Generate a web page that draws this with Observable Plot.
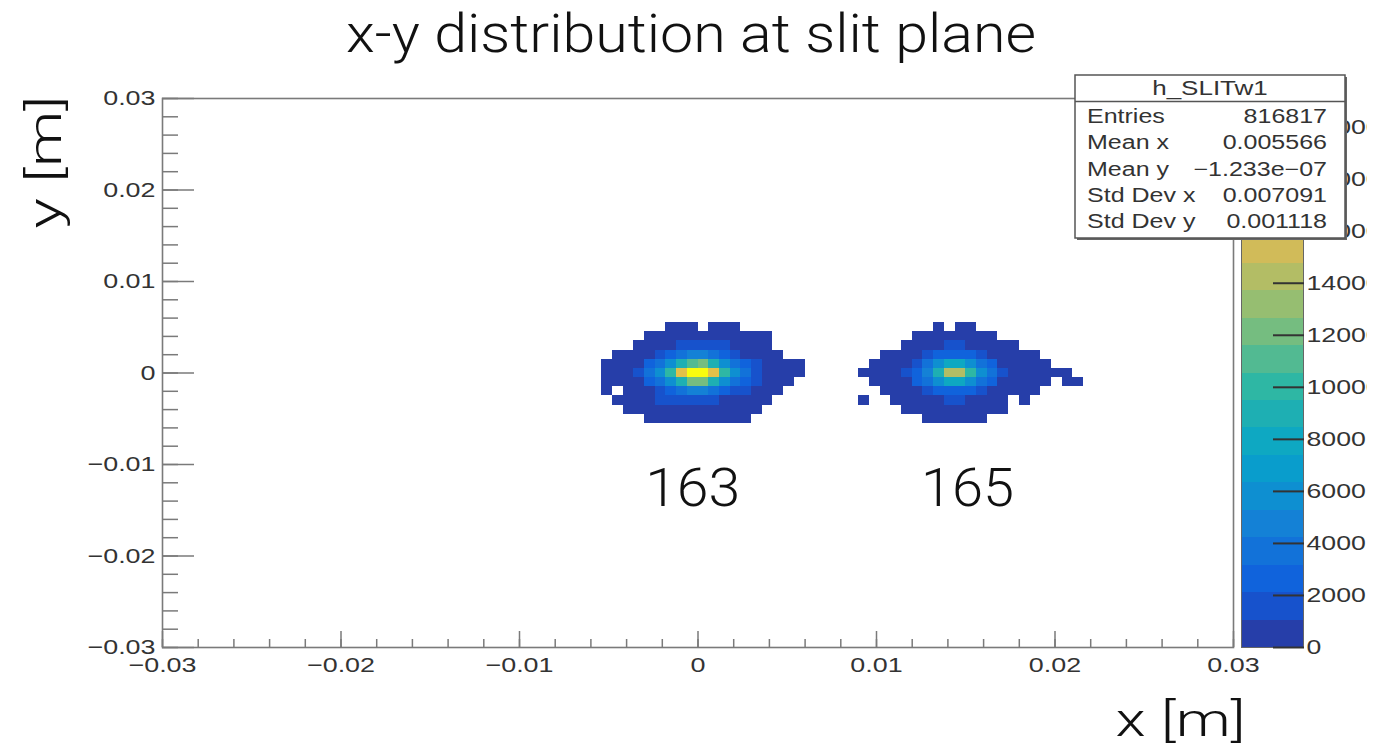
<!DOCTYPE html>
<html>
<head>
<meta charset="utf-8">
<script src="https://cdn.jsdelivr.net/npm/d3@7"></script>
<script src="https://cdn.jsdelivr.net/npm/@observablehq/plot@0.6"></script>
<style>
  body { margin: 0; background: #fff; }
  #wrap { position: relative; width: 1386px; height: 752px; overflow: hidden; background: #fff; }
  #wrap > svg { position: absolute; }
</style>
</head>
<body>
<div id="wrap"></div>
<script>
// ---------------- data ----------------
const titleText = "x-y distribution at slit plane";
const xAxisTitle = "x [m]";
const yAxisTitle = "y [m]";

// histogram binning (x bins 0.0006 m wide, y bins 0.001 m tall)
const binWidthX = 0.0006;
const binHeightY = 0.001;
const rowCentersY = [0.005, 0.004, 0.003, 0.002, 0.001, 0, -0.001, -0.002, -0.003, -0.004, -0.005];

// peak "163": columns start at x = -0.0054 (20 columns)
const peak163FirstEdgeX = -0.0054;
const peak163Counts = [
  [0,0,0,0,0,0,140,260,210,0,230,170,90,0,0,0,0,0,0,0],
  [0,0,0,0,170,380,560,760,900,920,800,610,430,280,150,60,0,0,0,0],
  [0,0,0,140,340,650,1000,1500,1950,2000,1600,1150,750,450,240,100,0,0,0,0],
  [0,80,230,520,1000,1800,2900,4000,5000,5100,4000,2900,1800,1050,560,260,100,0,0,0],
  [60,220,500,950,2200,3500,5600,8600,11600,11900,9000,5800,3600,2300,1150,580,300,150,70,0],
  [150,390,800,2000,3800,6000,9700,16000,21000,20700,16600,10100,6100,3500,1900,780,390,190,80,0],
  [80,250,540,980,2250,3600,5700,8700,11800,12000,9100,5900,3700,2350,1200,600,310,140,0,0],
  [60,0,240,540,1020,1850,2950,4050,5050,5150,4050,2950,1850,1080,580,270,110,0,0,0],
  [0,70,200,420,720,1080,1500,1950,2000,1950,1500,1050,680,380,190,80,0,0,0,0],
  [0,0,110,250,420,600,760,870,930,920,800,620,430,260,120,0,0,0,0,0],
  [0,0,0,0,80,190,320,420,470,460,400,300,180,80,0,0,0,0,0,0]
];

// peak "165": columns start at x = 0.009 (21 columns)
const peak165FirstEdgeX = 0.009;
const peak165Counts = [
  [0,0,0,0,0,0,0,150,0,190,120,0,0,0,0,0,0,0,0,0,0],
  [0,0,0,0,0,120,300,480,620,640,520,330,140,0,0,0,0,0,0,0,0],
  [0,0,0,0,110,280,540,850,1080,1100,900,620,380,210,90,0,0,0,0,0,0],
  [0,0,90,220,450,900,1600,2400,3000,3050,2500,1700,950,500,260,120,60,0,0,0,0],
  [0,80,200,420,850,2100,3300,5600,7900,8100,6100,3500,2150,880,450,240,110,50,0,0,0],
  [60,160,330,650,1150,2400,4800,9100,14300,14500,10300,5900,3300,1400,700,380,200,110,60,40,0],
  [0,90,210,440,880,2150,3350,5700,8000,8200,6200,3600,2200,900,460,250,120,60,0,40,30],
  [0,0,100,230,460,920,1600,2400,3000,3050,2500,1700,950,500,260,120,50,0,0,0,0],
  [30,0,0,90,200,400,660,900,1080,1080,880,600,360,180,0,60,0,0,0,0,0],
  [0,0,0,0,100,240,420,620,760,780,640,450,260,110,0,0,0,0,0,0,0],
  [0,0,0,0,0,0,110,230,320,330,240,120,0,0,0,0,0,0,0,0,0]
];

const massLabels = ["163", "165"];
const massLabelX = [-0.0003, 0.0151];
const massLabelY = [-0.0127, -0.0127];

const xTickValues = [-0.03, -0.02, -0.01, 0, 0.01, 0.02, 0.03];
const yTickValues = [-0.03, -0.02, -0.01, 0, 0.01, 0.02, 0.03];
const minorStep = 0.002;

const colorbarMax = 21100;
const colorbarContours = 20;
const colorbarTickValues = [0, 2000, 4000, 6000, 8000, 10000, 12000, 14000, 16000, 18000, 20000];

const statsTitle = "h_SLITw1";
const statNames = ["Entries", "Mean x", "Mean y", "Std Dev x", "Std Dev y"];
const statValues = ["816817", "0.005566", "\u22121.233e\u221207", "0.007091", "0.001118"];

// ---------------- style ----------------
// ROOT kBird palette sampled at the 20 contour levels
const birdColors = ["#263ea9","#1752cc","#1063dc","#1272d9","#1481d6","#0e8fd1","#099dcc","#0ea8c2",
  "#1eafb3","#2eb7a4","#52ba92","#75bd80","#96be71","#b3bd65","#d1bb59","#e3c049","#f5c539",
  "#fdd22a","#fbe61c","#f9fb0e"];
const rootFont = "'Liberation Sans', Arial, Helvetica, sans-serif";
const titleFont = "Roboto, 'Open Sans', 'Liberation Sans', sans-serif";
const labelColor = "#333";
const axisColor = "#7a7a7a";

// ---------------- build ----------------
function cellsFrom(counts, firstEdge) {
  const out = [];
  counts.forEach((row, r) => row.forEach((c, k) => {
    if (c > 0) out.push({
      x1: firstEdge + k * binWidthX, x2: firstEdge + (k + 1) * binWidthX,
      y1: rowCentersY[r] - binHeightY / 2, y2: rowCentersY[r] + binHeightY / 2, count: c
    });
  }));
  return out;
}
const cells = cellsFrom(peak163Counts, peak163FirstEdgeX).concat(cellsFrom(peak165Counts, peak165FirstEdgeX));
const thresholds = d3.range(1, colorbarContours).map(i => i * colorbarMax / colorbarContours);
const colorScale = {type: "threshold", domain: thresholds, range: birdColors};
const minorTicks = d3.range(0, 31).map(i => +(-0.03 + i * minorStep).toFixed(4));
const fmt = d => d === 0 ? "0" : d3.format(".2f")(d);
const massData = massLabels.map((t, i) => ({t, x: massLabelX[i], y: massLabelY[i]}));

const W = 1386, H = 752;
const main = Plot.plot({
  width: W, height: H,
  marginLeft: 162, marginRight: 153, marginTop: 98, marginBottom: 105,
  style: {fontFamily: rootFont, fontSize: "21px", color: labelColor, background: "transparent"},
  x: {domain: [-0.03, 0.03], label: null},
  y: {domain: [-0.03, 0.03], label: null},
  color: colorScale,
  marks: [
    Plot.rect(cells, {x1: "x1", x2: "x2", y1: "y1", y2: "y2", fill: "count", shapeRendering: "crispEdges"}),
    Plot.frame({stroke: axisColor, strokeWidth: 1.6}),
    Plot.axisX(minorTicks, {tickSize: -8, tickFormat: () => "", stroke: axisColor, strokeWidth: 1.5}),
    Plot.axisX(xTickValues, {tickSize: -16, tickPadding: 26, tickFormat: fmt, stroke: axisColor, strokeWidth: 1.5, fill: labelColor}),
    Plot.axisY(minorTicks, {tickSize: -16, tickFormat: () => "", stroke: axisColor, strokeWidth: 1.5}),
    Plot.axisY(yTickValues, {tickSize: -32, tickPadding: 39, tickFormat: fmt, stroke: axisColor, strokeWidth: 1.5, fill: labelColor}),
    Plot.text(massData, {x: "x", y: "y", text: "t", fontSize: 54, fontFamily: titleFont, fontWeight: 300, fill: "#111"}),
    Plot.text([titleText], {frameAnchor: "top", dx: -7, dy: -85, fontSize: 54, fontFamily: titleFont, fontWeight: 300, fill: "#111"}),
    Plot.text([yAxisTitle], {frameAnchor: "top-left", dx: -134, dy: 130, rotate: -90, fontSize: 46, fontFamily: titleFont, fontWeight: 300, fill: "#111"}),
    Plot.text([xAxisTitle], {frameAnchor: "bottom-right", dx: 12, dy: 88, fontSize: 47, fontFamily: titleFont, fontWeight: 300, fill: "#111"})
  ]
});

const bands = d3.range(colorbarContours).map(i => ({lo: i * colorbarMax / colorbarContours, hi: (i + 1) * colorbarMax / colorbarContours}));
const cbW = 131;
const cbar = Plot.plot({
  width: cbW, height: H,
  marginLeft: 5, marginRight: cbW - 67, marginTop: 98, marginBottom: 105,
  style: {fontFamily: rootFont, fontSize: "21px", color: labelColor, background: "transparent"},
  x: {domain: [0, 1], label: null, axis: null},
  y: {domain: [0, colorbarMax], label: null},
  color: colorScale,
  marks: [
    Plot.rect(bands, {y1: "lo", y2: "hi", fill: d => (d.lo + d.hi) / 2, shapeRendering: "crispEdges"}),
    Plot.frame({stroke: "#666", strokeWidth: 1}),
    Plot.axisY(colorbarTickValues, {anchor: "right", tickSize: -31, tickPadding: 34, tickFormat: d => String(d), stroke: "#333", strokeWidth: 2, fill: labelColor})
  ]
});

const wrap = document.getElementById("wrap");
main.style.left = "0px"; main.style.top = "0px";
cbar.style.left = "1236px"; cbar.style.top = "0px";
wrap.appendChild(main);
wrap.appendChild(cbar);

// stats box
const sx = 1072, sy = 72;
const stats = d3.create("svg").attr("width", 280).attr("height", 172)
  .style("left", sx + "px").style("top", sy + "px");
stats.append("rect").attr("x", 5).attr("y", 5).attr("width", 270).attr("height", 163).attr("fill", "#666");
stats.append("rect").attr("x", 3).attr("y", 3).attr("width", 270).attr("height", 163)
  .attr("fill", "#fff").attr("stroke", "#555").attr("stroke-width", 1.5);
stats.append("line").attr("x1", 3).attr("x2", 273).attr("y1", 29.5).attr("y2", 29.5).attr("stroke", "#555").attr("stroke-width", 1.5);
const st = stats.append("g").attr("font-family", rootFont).attr("font-size", 20).attr("fill", "#333");
st.append("text").attr("class", "hdr").attr("x", 138).attr("y", 23).attr("text-anchor", "middle").text(statsTitle);
statNames.forEach((n, i) => {
  st.append("text").attr("class", "st").attr("x", 15).attr("y", 51 + i * 26.3).text(n);
  st.append("text").attr("class", "st").attr("x", 255).attr("y", 51 + i * 26.3).attr("text-anchor", "end").text(statValues[i]);
});
wrap.appendChild(stats.node());

// horizontal stretch of ROOT-rendered text (the screenshot is stretched)
function stretch(nodes, factor) {
  nodes.forEach(t => {
    const w = t.getComputedTextLength();
    if (w > 0) { t.setAttribute("textLength", (w * factor).toFixed(1)); t.setAttribute("lengthAdjust", "spacingAndGlyphs"); }
  });
}
function fitWidth(node, width) {
  if (!node) return;
  node.setAttribute("textLength", width); node.setAttribute("lengthAdjust", "spacingAndGlyphs");
}
stretch(Array.from(main.querySelectorAll('g[aria-label="x-axis tick label"] text, g[aria-label="y-axis tick label"] text')), 1.28);
stretch(Array.from(cbar.querySelectorAll('g[aria-label="y-axis tick label"] text')), 1.27);
stretch(Array.from(stats.node().querySelectorAll("text.st")), 1.25);
stretch(Array.from(stats.node().querySelectorAll("text.hdr")), 1.3);
const allTexts = Array.from(main.querySelectorAll('g[aria-label="text"] text'));
const find = s => allTexts.find(t => t.textContent === s);
fitWidth(find(titleText), 690);
fitWidth(find("163"), 95);
fitWidth(find("165"), 93);
fitWidth(find(yAxisTitle), 133);
fitWidth(find(xAxisTitle), 130);
</script>
</body>
</html>
